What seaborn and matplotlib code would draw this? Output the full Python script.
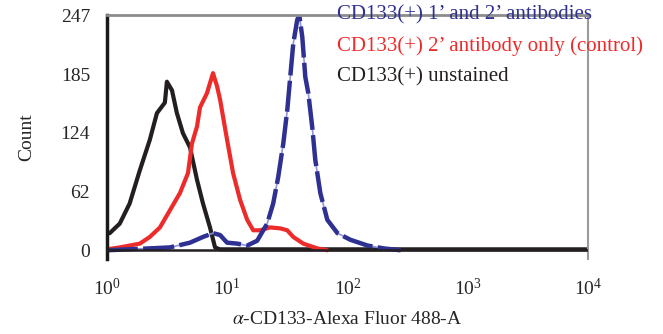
import numpy as np
import pandas as pd
import matplotlib
matplotlib.use("Agg")
import matplotlib.pyplot as plt
from matplotlib.ticker import FixedLocator, LogFormatterSciNotation, NullLocator
import seaborn as sns

# histogram traces (x in log10 decades, y = count)
unstained_log = [0.0, 0.025, 0.108, 0.19, 0.275, 0.358, 0.417, 0.483, 0.5, 0.542, 0.583,
                 0.633, 0.692, 0.75, 0.8, 0.858, 0.9, 0.94, 1.5, 2.5, 3.5, 4.0]
unstained_cnt = [18, 18, 28, 49, 84, 116, 144, 155, 177, 168, 144,
                 123, 108, 74, 49, 24, 3, 1, 1, 1, 1, 1]

control_log = [0.0, 0.108, 0.275, 0.358, 0.442, 0.525, 0.608, 0.675, 0.708, 0.75, 0.775,
               0.833, 0.883, 0.917, 0.942, 1.0, 1.05, 1.108, 1.167, 1.217, 1.275, 1.358,
               1.442, 1.5, 1.55, 1.633, 1.75, 1.833]
control_cnt = [1, 3, 7, 14, 24, 42, 60, 81, 112, 130, 150,
               165, 186, 172, 158, 116, 81, 53, 32, 21, 21, 24,
               23, 21, 14, 7, 2, 0]

stained_log = [0.0, 0.358, 0.525, 0.692, 0.8, 0.883, 0.942, 1.0, 1.083, 1.167, 1.25,
               1.333, 1.383, 1.425, 1.467, 1.5, 1.525, 1.55, 1.583, 1.6, 1.625, 1.65,
               1.675, 1.708, 1.733, 1.775, 1.833, 1.917, 2.025, 2.167, 2.3, 2.442]
stained_cnt = [0, 2, 3, 8, 14, 18, 16, 8, 7, 5, 10,
               28, 49, 77, 112, 147, 182, 217, 242, 247, 224, 182,
               165, 129, 95, 60, 32, 18, 11, 5, 2, 0]

labels = ["CD133(+) 1\u2019 and 2\u2019 antibodies",
          "CD133(+) 2\u2019 antibody only (control)",
          "CD133(+) unstained"]
colors = ["#2e3192", "#ee2b2b", "#231f20"]

y_ticks = [0, 62, 124, 185, 247]
x_ticks = [1, 10, 100, 1000, 10000]

frames = []
for name, xs, ys in [(labels[0], stained_log, stained_cnt),
                     (labels[1], control_log, control_cnt),
                     (labels[2], unstained_log, unstained_cnt)]:
    frames.append(pd.DataFrame({"intensity": 10 ** np.array(xs), "count": ys, "sample": name}))
df = pd.concat(frames, ignore_index=True)

sns.set_style("white")
plt.rcParams["font.family"] = ["Liberation Serif", "DejaVu Serif"]
plt.rcParams["mathtext.fontset"] = "stix"

fig = plt.figure(figsize=(6.63, 3.34), dpi=100)
ax = fig.add_axes([0.161, 0.225, 0.726, 0.73])

# black and red traces
sns.lineplot(data=df[df["sample"] != labels[0]], x="intensity", y="count", hue="sample",
             hue_order=labels[:0:-1], palette=dict(zip(labels, colors)), sort=False,
             estimator=None, linewidth=3, legend=False, ax=ax)

# blue trace: thin pale line under a thick broken one, like the scan
blue = df[df["sample"] == labels[0]]
sns.lineplot(data=blue, x="intensity", y="count", color="#8f93d6", sort=False,
             estimator=None, linewidth=1.2, legend=False, ax=ax)
sns.lineplot(data=blue, x="intensity", y="count", color=colors[0], sort=False,
             estimator=None, linewidth=3.2, dashes=False, legend=False, ax=ax)
ax.lines[-1].set_dashes([7, 1.2])

ax.set_xscale("log")
ax.set_xlim(1, 10000)
ax.set_ylim(-9, 247)
ax.axhline(0, color="#231f20", lw=1.8, zorder=5)

ax.xaxis.set_major_locator(FixedLocator(x_ticks))
ax.xaxis.set_major_formatter(LogFormatterSciNotation())
ax.xaxis.set_minor_locator(NullLocator())
ax.set_yticks(y_ticks)
ax.yaxis.set_minor_locator(FixedLocator(np.arange(0, 247, 12.35)))
ax.tick_params(axis="x", length=0, pad=14, labelsize=14)
ax.tick_params(axis="y", which="major", length=0, pad=12, labelsize=14)
ax.tick_params(axis="y", which="minor", length=3, width=1, direction="inout", color="#555555")

ax.spines["left"].set_color("#1a1a1a")
ax.spines["left"].set_linewidth(2.5)
ax.spines["top"].set_color("#8c8c8c")
ax.spines["top"].set_linewidth(2)
ax.spines["right"].set_color("#9a9a9a")
ax.spines["right"].set_linewidth(1.5)
ax.spines["bottom"].set_visible(False)

ax.set_xlabel("$\\alpha$-CD133-Alexa Fluor 488-A", fontsize=14, labelpad=8)
ax.set_ylabel("Count", fontsize=14, labelpad=18)

for i, (lab, col) in enumerate(zip(labels, colors)):
    fig.text(0.508, 0.955 - i * 0.093, lab, color=col, fontsize=15, va="center", ha="left")

fig.savefig("out.png", dpi=100)
